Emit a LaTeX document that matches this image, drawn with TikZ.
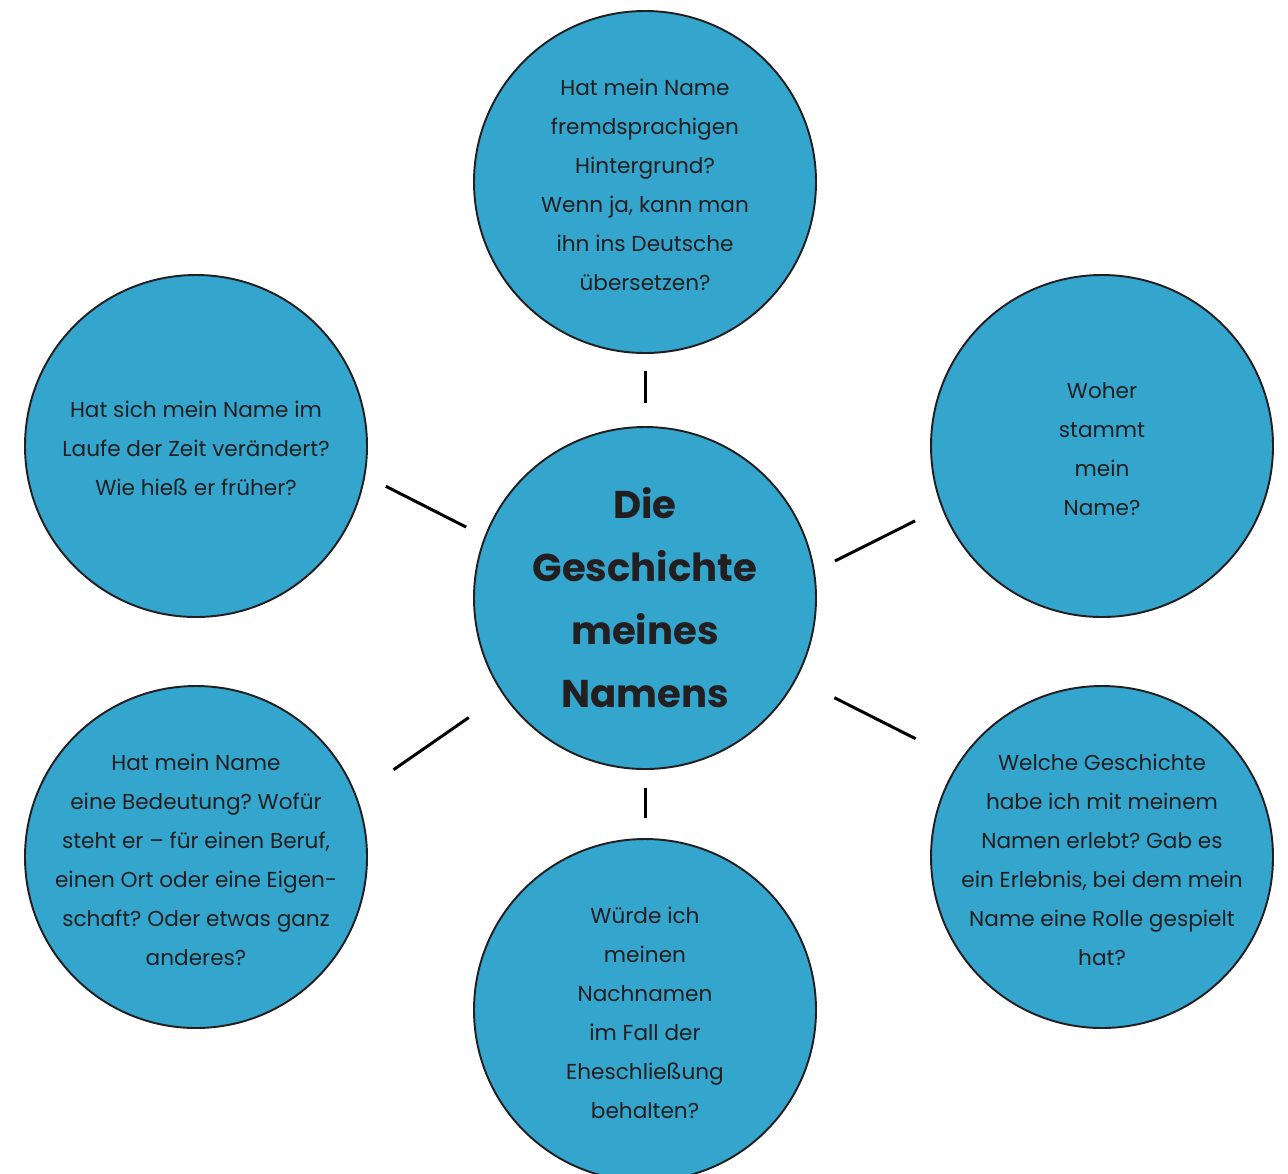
\documentclass[tikz,border=0pt]{standalone}
\usepackage{fontspec}
\setmainfont{Poppins}
\usepackage{tikz}
\definecolor{namblue}{RGB}{52,165,205}
\definecolor{namtext}{RGB}{35,31,32}
\frenchspacing

\begin{document}
\begin{tikzpicture}[line width=1.7pt]
                \tikzstyle{every node}=[text=namtext, align=center]
                \tikzstyle{bubble}=[circle, draw=namtext, line width=1.1pt, fill=namblue, minimum size=6.84cm, inner sep=0pt]
                \tikzstyle{question}=[font=\fontsize{12.3}{22.2}\selectfont, yshift=-1.5pt]
                \useasboundingbox (0, 0) rectangle (25.76, -23.46);
                \node[bubble, font=\fontsize{22}{35.9}\selectfont\bfseries] (name) at (12.9, -11.96) {Die\\Geschichte\\meines\\Namens};
                \node[bubble, label={[question]center:Hat mein Name\\fremdsprachigen\\Hintergrund?\\Wenn ja, kann man\\ihn ins Deutsche\\übersetzen?}] (fremd) at (12.9, -3.64) {};
                \node[bubble, label={[question]center:Hat sich mein Name im\\Laufe der Zeit verändert?\\Wie hieß er früher?}] (zeit) at (3.92, -8.92) {};
                \node[bubble, label={[question]center:Woher\\stammt\\mein\\Name?}] (woher) at (22.04, -8.92) {};
                \node[bubble, label={[question]center:Hat mein Name\\eine Bedeutung? Wofür\\steht er – für einen Beruf,\\einen Ort oder eine Eigen-\\schaft? Oder etwas ganz\\anderes?}] (bedeutung) at (3.92, -17.14) {};
                \node[bubble, label={[question]center:Welche Geschichte\\habe ich mit meinem\\Namen erlebt? Gab es\\ein Erlebnis, bei dem mein\\Name eine Rolle gespielt\\hat?}] (erlebnis) at (22.04, -17.14) {};
                \node[bubble, label={[question]center:Würde ich\\meinen\\Nachnamen\\im Fall der\\Eheschließung\\behalten?}] (nachname) at (12.9, -20.2) {};

            \draw[shorten <=0.46cm, shorten >=0.34cm] (name.90) -- (fremd.-90);
            \draw[shorten <=0.41cm, shorten >=0.46cm] (name.159) -- (zeit.-10);
            \draw[shorten <=0.45cm, shorten >=0.59cm] (name.9) -- (woher.-159);
            \draw[shorten <=0.82cm, shorten >=0.9cm] (name.-146) -- (bedeutung.21);
            \draw[shorten <=0.84cm, shorten >=0.98cm] (name.-28) -- (erlebnis.146);
            \draw[shorten <=0.36cm, shorten >=0.4cm] (name.-90) -- (nachname.90);
          \end{tikzpicture}
\end{document}
